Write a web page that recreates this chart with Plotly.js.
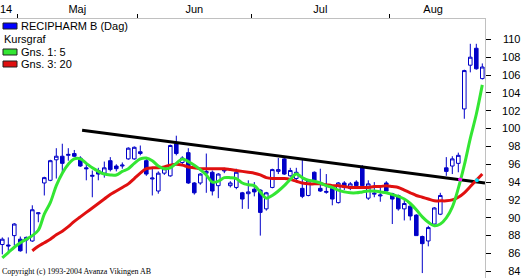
<!DOCTYPE html>
<html><head><meta charset="utf-8">
<script src="https://cdn.plot.ly/plotly-3.0.1.min.js"></script>
<style>html,body{margin:0;padding:0;background:#fff;overflow:hidden}#chart{width:522px;height:278px}</style>
</head><body><div id="chart"></div>
<script>
// Daily candles (trading-day index 0..80)
const openP  = [87.0,86.95,88.0,87.6,87.5,87.4,90.45,93.9,94.2,96.5,96.9,97.0,97.2,96.7,95.6,94.65,95.3,95.0,96.4,95.8,95.8,96.6,96.6,97.4,96.4,94.35,93.0,95.0,94.7,98.3,96.2,97.3,93.9,93.9,95.0,95.1,93.6,95.25,93.6,93.4,92.8,92.7,93.2,93.1,91.0,93.4,95.2,96.6,94.7,94.4,93.3,92.5,95.1,93.3,92.85,93.3,91.7,93.9,93.3,94.0,95.6,92.2,92.65,92.45,93.9,92.7,92.5,91.0,91.3,90.3,87.9,87.4,89.3,90.4,95.6,95.8,96.1,102.2,107.1,109.0,105.6];
const highP  = [87.8,87.8,89.4,87.9,87.9,91.4,90.6,94.6,96.5,97.8,98.3,97.8,97.6,96.9,96.1,95.3,95.6,96.3,96.8,96.0,96.2,97.9,98.0,98.1,96.6,95.5,95.2,95.6,98.2,99.2,96.9,97.8,94.0,95.0,97.2,95.3,95.0,95.6,94.1,95.5,92.9,94.2,94.0,93.2,92.9,95.5,96.7,96.8,95.6,95.6,96.6,94.3,95.2,95.5,94.9,93.4,94.0,94.1,94.0,94.2,95.9,94.2,94.0,93.4,94.1,92.8,92.6,92.2,91.5,90.4,88.0,89.1,91.2,92.8,96.8,96.9,97.3,106.6,109.5,109.5,107.3];
const lowP   = [85.9,86.1,86.9,86.2,86.0,87.3,89.5,92.5,94.1,94.4,95.0,96.4,96.8,95.7,94.2,92.3,94.2,94.5,95.2,95.2,95.5,96.5,96.5,97.0,94.7,92.5,92.7,94.8,94.6,97.0,96.0,93.8,92.6,93.7,92.8,92.5,92.2,95.0,93.4,93.2,91.0,91.0,92.4,88.0,90.8,93.3,94.9,94.8,94.6,94.2,92.2,92.4,94.1,92.9,92.7,91.4,91.6,93.1,93.1,93.4,93.5,92.0,92.3,91.8,93.0,89.3,90.8,89.7,89.7,88.0,83.8,86.8,89.2,90.3,94.7,94.9,95.1,101.1,106.3,106.6,105.5];
const closeP = [87.6,86.85,89.3,86.3,87.8,90.9,90.55,94.5,96.4,96.9,96.1,97.1,96.9,95.8,95.5,94.75,94.9,95.6,95.4,95.5,95.9,97.8,97.9,97.2,94.9,94.45,95.0,95.5,98.1,97.2,96.7,93.9,92.8,94.9,95.2,93.0,94.9,95.35,93.9,95.1,92.1,92.9,92.9,90.6,92.8,95.4,95.4,94.9,95.3,95.1,92.4,94.2,94.2,93.0,92.95,92.1,93.9,93.4,93.8,93.6,93.6,93.8,92.75,92.55,93.0,92.1,91.0,91.6,90.2,88.0,87.1,88.9,91.1,92.5,95.2,96.6,97.0,106.5,108.0,106.7,106.9];
// Moving averages
const ma5  = [85.5,86.1,86.7,87.2,87.6,88.0,88.6,90.4,91.7,93.6,95.0,96.0,96.6,96.6,96.1,95.6,95.2,94.9,94.8,94.8,95.2,95.5,96.1,96.6,96.7,96.4,95.8,95.5,95.6,96.1,96.6,96.3,95.9,95.4,94.8,94.0,94.1,94.5,94.5,94.4,93.9,93.7,93.6,92.9,92.2,92.5,93.0,93.6,94.3,94.9,94.5,94.2,94.1,93.9,93.6,93.4,93.1,92.9,92.8,92.8,92.9,93.0,93.0,92.9,92.8,92.6,92.4,92.1,91.6,90.9,90.1,89.5,89.1,89.3,90.0,91.2,93.3,95.9,98.9,101.6,104.9];
const ma20 = [null,null,null,null,null,86.3,86.8,87.2,87.6,88.1,88.5,89.0,89.6,90.1,90.6,91.1,91.6,92.1,92.6,93.0,93.4,93.8,94.4,95.0,95.5,95.6,95.6,95.7,95.9,96.0,95.9,95.7,95.6,95.5,95.5,95.5,95.5,95.5,95.4,95.3,95.2,95.1,95.0,94.8,94.5,94.4,94.4,94.4,94.3,94.1,93.9,93.8,93.8,93.8,93.7,93.6,93.6,93.5,93.4,93.4,93.4,93.4,93.5,93.5,93.6,93.5,93.4,93.1,92.8,92.5,92.3,92.1,91.9,91.9,91.9,92.0,92.3,92.8,93.5,94.2,94.9];
// Trend line (index, price)
const trendIdx = [13.3, 80.45];
const trendVal = [99.8, 93.9];
// Crossing markers
const crossIdx = [76.3, 79.1];
const crossVal = [94.3, 94.2];
const crossCol = ['#ff00ff', '#00e5ff'];
// Axis labels
const monthStartIdx = [2.5, 22.5, 41.45, 64.45];
const monthLabelIdx = [0.62, 12.5, 32.0, 53.0, 71.8];
const monthLabels = ['14', 'Maj', 'Jun', 'Jul', 'Aug'];
const yTicks = [84,86,88,90,92,94,96,98,100,102,104,106,108,110];
// Legend
const legendLabels = ['RECIPHARM B (Dag)', 'Kursgraf', 'Gns. 1: 5', 'Gns. 3: 20'];
const legendColors = ['#0000ff', null, '#33e633', '#e01010'];
const copyrightText = 'Copyright (c) 1993-2004 Avanza Vikingen AB';

const idx = openP.map((_, i) => i);
const W = 522, H = 278, T = 19, PR = 485;
const XR = [-0.383, 80.45], YR = [83.25, 112.28];
const px = x => x / W;
const py = y => (H - y) / (H - T);

const traces = [
  {type:'candlestick', x: idx, open: openP, high: highP, low: lowP, close: closeP,
   increasing:{line:{color:'#0000c8', width:1}, fillcolor:'#ffffff'},
   decreasing:{line:{color:'#0000c8', width:1}, fillcolor:'#0000c8'},
   whiskerwidth:0, hoverinfo:'skip'},
  {type:'scatter', mode:'lines', x: trendIdx, y: trendVal, line:{color:'#000', width:3}, hoverinfo:'skip'},
  {type:'scatter', mode:'lines', x: idx, y: ma20, line:{color:'#e01010', width:3, shape:'spline'}, hoverinfo:'skip'},
  {type:'scatter', mode:'lines', x: idx, y: ma5, line:{color:'#33e633', width:3, shape:'spline'}, hoverinfo:'skip'},
  {type:'scatter', mode:'markers', x: crossIdx, y: crossVal, marker:{color: crossCol, size:4}, hoverinfo:'skip'},
  // carrier trace so the label axes (x2, y2) are drawn
  {type:'scatter', mode:'markers', x: idx, y: closeP, xaxis:'x2', yaxis:'y2', marker:{opacity:0, size:1}, hoverinfo:'skip'}
];

const shapes = [];
const annotations = [];
const rowY = [26, 39, 52, 64];
legendLabels.forEach((lab, k) => {
  const hasSw = legendColors[k] !== null;
  if (hasSw) {
    shapes.push({type:'rect', xref:'paper', yref:'paper', x0:px(3), x1:px(17), y0:py(rowY[k]+3), y1:py(rowY[k]-3),
      fillcolor: legendColors[k], line:{color:'#202020', width:1}});
  }
  annotations.push({xref:'paper', yref:'paper', x: px(hasSw ? 19 : 2), y: py(rowY[k]), xanchor:'left', yanchor:'middle',
    text: lab, showarrow:false, font:{size:11, color:'#000'}});
});
annotations.push({xref:'paper', yref:'paper', x: px(0), y: py(271), xanchor:'left', yanchor:'middle',
  text: copyrightText, showarrow:false, font:{family:'Liberation Serif, Times New Roman, serif', size:8, color:'#000'}});

const layout = {
  width: W, height: H, margin:{l:0, r:0, t:T, b:0, pad:0},
  paper_bgcolor:'#fff', plot_bgcolor:'#fff', showlegend:false,
  font:{family:'Liberation Sans, Arial, sans-serif', size:11, color:'#000'},
  xaxis:{domain:[0, PR/W], range: XR, side:'top', tickvals: monthStartIdx, ticktext: monthStartIdx.map(() => ''),
    ticks:'outside', ticklen:4, tickcolor:'#000', showgrid:false, zeroline:false,
    showline:true, linecolor:'#c0c0c0', linewidth:1, rangeslider:{visible:false}, fixedrange:true},
  xaxis2:{overlaying:'x', anchor:'y', side:'top', range: XR, tickvals: monthLabelIdx, ticktext: monthLabels,
    ticks:'', showgrid:false, zeroline:false, showline:false, ticklabelstandoff: 3, ticklabeloverflow:'allow', fixedrange:true},
  yaxis:{range: YR, side:'right', tickvals: yTicks, showticklabels:false, ticks:'outside', ticklen:5, tickcolor:'#000',
    showgrid:false, zeroline:false, showline:true, linecolor:'#c0c0c0', linewidth:1, mirror:true, fixedrange:true},
  yaxis2:{overlaying:'y', anchor:'free', position: 0.997, side:'left', range: YR, tickvals: yTicks,
    ticks:'', showgrid:false, zeroline:false, showline:false, ticklabeloverflow:'allow', fixedrange:true},
  boxgap: 0.15,
  shapes: shapes, annotations: annotations
};
Plotly.newPlot('chart', traces, layout, {staticPlot:true, displayModeBar:false});
</script></body></html>
